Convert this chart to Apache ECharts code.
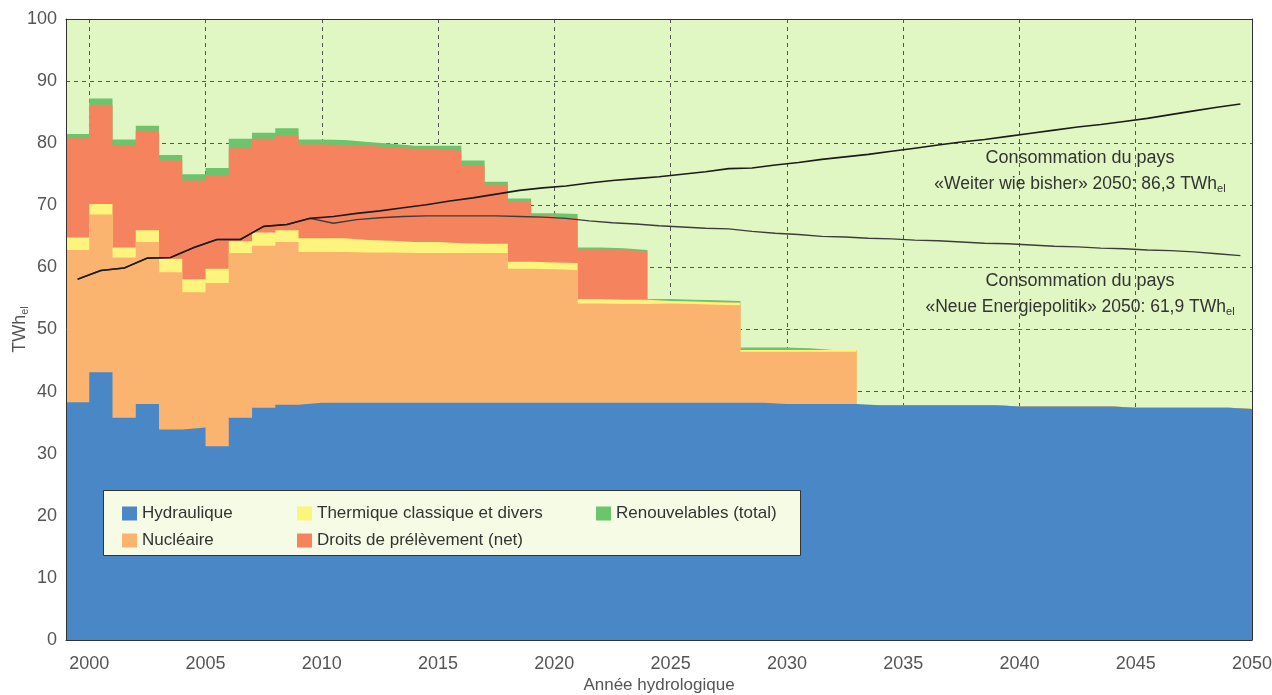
<!DOCTYPE html>
<html><head><meta charset="utf-8">
<script src="https://cdn.jsdelivr.net/npm/echarts@6/dist/echarts.min.js"></script>
<style>html,body{margin:0;padding:0;background:#fff;}#c{width:1272px;height:695px;}</style>
</head><body><div id="c"></div>
<script>
const years = [2000,2001,2002,2003,2004,2005,2006,2007,2008,2009,
  2010,2011,2012,2013,2014,2015,2016,2017,2018,2019,
  2020,2021,2022,2023,2024,2025,2026,2027,2028,2029,
  2030,2031,2032,2033,2034,2035,2036,2037,2038,2039,
  2040,2041,2042,2043,2044,2045,2046,2047,2048,2049,2050];
const hydraulique = [38.3,43.1,35.8,38.0,33.9,34.2,31.2,35.8,37.4,37.9,
  38.2,38.2,38.2,38.2,38.2,38.2,38.2,38.2,38.2,38.2,
  38.2,38.2,38.2,38.2,38.2,38.2,38.2,38.2,38.2,38.2,
  38.0,38.0,38.0,38.0,37.8,37.8,37.8,37.8,37.8,37.8,
  37.6,37.6,37.6,37.6,37.6,37.4,37.4,37.4,37.4,37.4,37.2];
const nucleaire = [24.5,25.4,25.8,26.1,25.3,21.8,26.3,26.5,26.1,26.2,
  24.3,24.3,24.2,24.2,24.1,24.1,24.1,24.1,24.1,21.6,
  21.5,21.4,16.0,15.9,15.9,16.0,15.9,15.8,15.7,8.2,
  8.4,8.4,8.4,8.4,0,0,0,0,0,0,
  0,0,0,0,0,0,0,0,0,0,0];
const thermique = [2.0,1.7,1.6,1.9,2.2,2.1,2.3,1.9,2.1,1.9,
  2.2,2.2,2.0,1.9,1.8,1.8,1.6,1.5,1.5,1.1,
  1.1,1.1,0.7,0.7,0.7,0.4,0.4,0.4,0.4,0.3,
  0.3,0.3,0.3,0.3,0,0,0,0,0,0,
  0,0,0,0,0,0,0,0,0,0,0];
const droits = [16.0,16.0,16.4,16.0,15.8,15.9,15.0,15.0,15.1,15.3,
  15.1,15.0,15.2,15.0,15.0,15.0,14.9,12.6,9.5,9.8,
  7.6,7.3,8.0,8.0,7.8,0,0,0,0,0,
  0,0,0,0,0,0,0,0,0,0,
  0,0,0,0,0,0,0,0,0,0,0];
const renouvelables = [0.7,1.0,1.0,0.8,0.9,1.0,1.2,1.5,1.0,1.1,
  0.8,0.8,0.6,0.6,0.5,0.5,0.8,0.8,0.5,0.4,
  0.3,0.6,0.3,0.3,0.2,0.3,0.3,0.3,0.3,0.4,
  0.4,0.3,0,0,0,0,0,0,0,0,
  0,0,0,0,0,0,0,0,0,0,0];
const consoWeiter = [58.1,59.5,59.9,61.5,61.6,63.2,64.5,64.5,66.6,66.9,
  67.9,68.2,68.7,69.1,69.6,70.1,70.7,71.2,71.8,72.4,
  72.8,73.1,73.6,74.0,74.3,74.6,75.0,75.4,75.9,76.0,
  76.5,76.9,77.4,77.8,78.2,78.7,79.2,79.7,80.2,80.6,
  81.1,81.6,82.1,82.6,83.0,83.5,84.0,84.6,85.2,85.8,86.3];
const consoNeue = [58.1,59.5,59.9,61.5,61.6,63.2,64.5,64.5,66.6,66.9,
  67.9,67.1,67.7,68.0,68.2,68.3,68.3,68.3,68.3,68.2,
  68.1,67.9,67.5,67.2,67.0,66.7,66.5,66.3,66.2,65.8,
  65.5,65.3,65.0,64.9,64.7,64.6,64.4,64.3,64.1,63.9,
  63.8,63.6,63.4,63.3,63.1,63.0,62.8,62.7,62.5,62.2,61.9];
const xTicks = [2000,2005,2010,2015,2020,2025,2030,2035,2040,2045,2050];

const FONT = 'Liberation Sans, Arial, Helvetica, sans-serif';
const colors = {
  hydro:'#4a87c6', nucl:'#fbb46f', therm:'#fcf47d', droits:'#f5835e', ren:'#6cc46d'
};

// layers bottom -> top; each drawn as area from 0 to its cumulative top
const layers = [
  {name:'Hydraulique', vals:hydraulique, color:colors.hydro},
  {name:'Nucléaire', vals:nucleaire, color:colors.nucl},
  {name:'Thermique classique et divers', vals:thermique, color:colors.therm},
  {name:'Droits de prélèvement (net)', vals:droits, color:colors.droits},
  {name:'Renouvelables (total)', vals:renouvelables, color:colors.ren}
];
let running = years.map(()=>0);
layers.forEach(l => { running = running.map((s,i)=>s + l.vals[i]); l.cum = running.slice(); });

// block for hydrological year Y spans [Y-1, Y]
function stepData(vals){
  return [[years[0]-1, vals[0]]].concat(years.map((y,i)=>[y, vals[i]]));
}
function areaSeries(l){
  return {name:l.name, type:'line', step:'start', data: stepData(l.cum),
    symbol:'none', showSymbol:false, lineStyle:{width:0, opacity:0},
    areaStyle:{color:l.color, opacity:1, origin:'start'}, itemStyle:{color:l.color},
    emphasis:{disabled:true}, silent:true, z:2};
}
function lineSeries(name, vals, color, width){
  return {name, type:'line', data: years.map((y,i)=>[y-0.5, vals[i]]),
    symbol:'none', showSymbol:false, lineStyle:{color, width}, itemStyle:{color},
    emphasis:{disabled:true}, silent:true, z:3};
}

const borderAxis = (pos, dimMin, dimMax) => ({
  type:'value', min:dimMin, max:dimMax, position:pos, z:10,
  axisLine:{show:true, onZero:false, lineStyle:{color:'#333', width:1}},
  axisLabel:{show:false}, axisTick:{show:false}, splitLine:{show:false}
});

const legendCommon = {
  orient:'vertical', top:500, itemWidth:15, itemHeight:14, itemGap:10, icon:'rect',
  selectedMode:false, textStyle:{fontSize:17, color:'#333', fontFamily:FONT}
};

const areaSeriesList = layers.slice().reverse().map(l => areaSeries(l));
const subRich = (size) => ({
  m:{fontSize:size, lineHeight:20, fontFamily:FONT, fill:'#333', color:'#333'},
  s:{fontSize:11, lineHeight:8, verticalAlign:'bottom', fontFamily:FONT, fill:'#333', color:'#333'}
});

const chart = echarts.init(document.getElementById('c'), null, {renderer:'canvas'});
chart.setOption({
  animation:false,
  textStyle:{fontFamily:FONT},
  grid:{left:66, right:20, top:19, bottom:55, show:true, backgroundColor:'#e1f7c3', borderWidth:0,
        outerBoundsMode:'none', containLabel:false},
  xAxis:[
    {type:'value', min:1999, max:2050, position:'bottom',
     name:'Année hydrologique', nameLocation:'middle', nameGap:37, nameMoveOverlap:false,
     nameTextStyle:{fontSize:17, color:'#555', fontFamily:FONT},
     axisLine:{show:false, onZero:false},
     axisTick:{show:false, customValues:xTicks},
     axisLabel:{customValues:xTicks, fontSize:18, color:'#555', margin:15, formatter:v=>String(v)},
     splitLine:{show:true, lineStyle:{color:'#555', type:[4,4], width:1}}},
    borderAxis('bottom',1999,2050),
    borderAxis('top',1999,2050)
  ],
  yAxis:[
    {type:'value', min:0, max:100, interval:10, position:'left',
     name:'{m|TWh}{s|el}', nameLocation:'middle', nameGap:36, nameRotate:90, nameMoveOverlap:false,
     nameTextStyle:{color:'#555', fontFamily:FONT, rich:{
       m:{fontSize:18, lineHeight:20, color:'#555', fontFamily:FONT},
       s:{fontSize:11, lineHeight:8, verticalAlign:'bottom', color:'#555', fontFamily:FONT}}},
     axisLine:{show:false, onZero:false}, axisTick:{show:false},
     axisLabel:{fontSize:18, color:'#555', margin:9},
     splitLine:{show:true, lineStyle:{color:'#555', type:[4,4], width:1}}},
    borderAxis('left',0,100),
    borderAxis('right',0,100)
  ],
  legend:[
    Object.assign({left:117, data:['Hydraulique','Nucléaire']}, legendCommon),
    Object.assign({left:292, data:['Thermique classique et divers','Droits de prélèvement (net)']}, legendCommon),
    Object.assign({left:591, data:['Renouvelables (total)']}, legendCommon)
  ],
  graphic:[
    {type:'rect', z:3, shape:{x:103.5, y:490.5, width:697, height:65},
     style:{fill:'#f6fbe5', stroke:'#333', lineWidth:1}},
    {type:'text', z:3, style:{x:1080, y:158, text:'Consommation du pays', textAlign:'center', textVerticalAlign:'middle',
      font:'18px '+FONT, fill:'#333'}},
    {type:'text', z:3, style:{x:1080, y:184, text:'{m|«Weiter wie bisher» 2050: 86,3 TWh}{s|el}', textAlign:'center', textVerticalAlign:'middle',
      rich:subRich(17.5)}},
    {type:'text', z:3, style:{x:1080, y:281, text:'Consommation du pays', textAlign:'center', textVerticalAlign:'middle',
      font:'18px '+FONT, fill:'#333'}},
    {type:'text', z:3, style:{x:1080, y:307, text:'{m|«Neue Energiepolitik» 2050: 61,9 TWh}{s|el}', textAlign:'center', textVerticalAlign:'middle',
      rich:subRich(17.5)}}
  ],
  series: areaSeriesList.concat([
    lineSeries('Consommation «Neue Energiepolitik»', consoNeue, '#3c3c3c', 1.4),
    lineSeries('Consommation «Weiter wie bisher»', consoWeiter, '#1c1c1c', 1.6)
  ])
});
</script></body></html>
